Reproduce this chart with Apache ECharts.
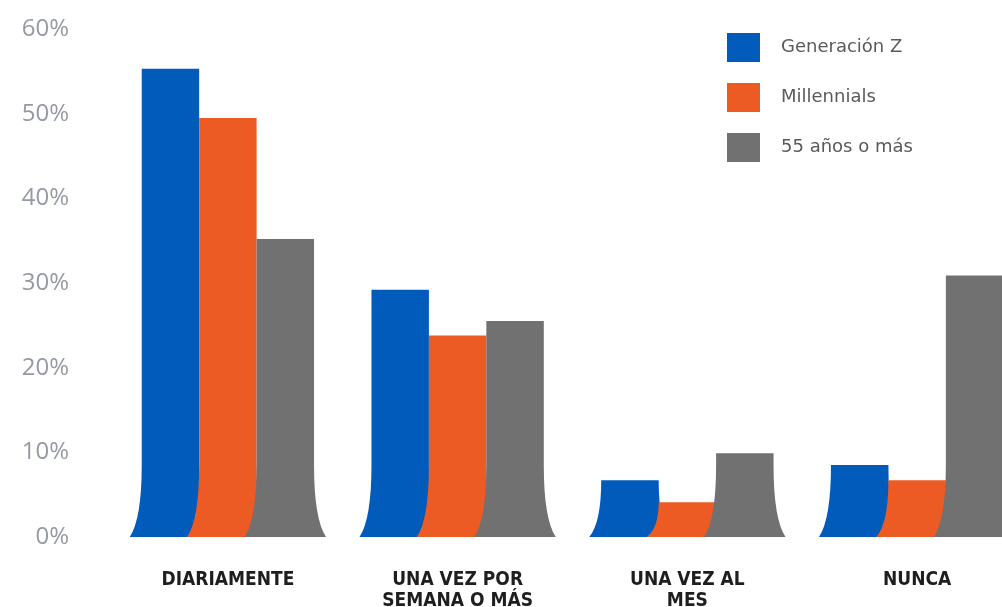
<!DOCTYPE html>
<html><head><meta charset="utf-8">
<script src="https://cdn.jsdelivr.net/npm/echarts@6/dist/echarts.min.js"></script>
<style>html,body{margin:0;padding:0;background:#fff}#c{width:1002px;height:607px}</style>
</head><body><div id="c"></div>
<script>
const categories = ['DIARIAMENTE', 'UNA VEZ POR\nSEMANA O MÁS', 'UNA VEZ AL\nMES', 'NUNCA'];
const seriesNames = ['Generación Z', 'Millennials', '55 años o más'];
const genZ = [55.3, 29.2, 6.7, 8.5];
const millennials = [49.5, 23.8, 4.1, 6.7];
const over55 = [35.2, 25.5, 9.9, 30.9];
const yTicks = [0, 10, 20, 30, 40, 50, 60];
const colors = ['#005bbb', '#ec5b24', '#717171'];

const chart = echarts.init(document.getElementById('c'), null, {renderer: 'canvas'});
const allValues = [genZ, millennials, over55];

function makeRender(idx) {
  return function (params, api) {
    const cat = api.value(0);
    const val = api.value(1);
    const base = api.coord([cat, 0]);
    const top = api.coord([cat, val]);
    const band = api.size([1, 0])[0];
    const bw = band * 0.25;
    const cx = base[0] + (idx - 1) * bw;
    const x0 = cx - bw / 2, x1 = cx + bw / 2;
    const yB = base[1], yT = top[1];
    const h = yB - yT;
    const fh = Math.min(72, h);
    const fw = 12;
    const p = [
      'M', x0, yT,
      'L', x0, yB - fh,
      'Q', x0, yB - fh * 0.25, x0 - fw, yB,
      'L', x1 + fw, yB,
      'Q', x1, yB - fh * 0.25, x1, yB - fh,
      'L', x1, yT, 'Z'
    ].join(' ');
    return {
      type: 'path',
      shape: {pathData: p},
      style: {fill: colors[idx]}
    };
  };
}

const series = seriesNames.map((name, i) => ({
  name: name,
  type: 'custom',
  renderItem: makeRender(i),
  itemStyle: {color: colors[i]},
  encode: {x: 0, y: 1},
  clip: false,
  data: allValues[i].map((v, k) => [k, v])
}));

chart.setOption({
  animation: false,
  grid: {left: 113, top: 29, width: 919, bottom: 70, containLabel: false, outerBoundsMode: 'none'},
  legend: {
    orient: 'vertical', left: 727, top: 33, padding: 0,
    itemWidth: 33, itemHeight: 29, itemGap: 21,
    icon: 'rect',
    data: seriesNames,
    textStyle: {color: '#5a5a5a', fontSize: 18, fontFamily: 'DejaVu Sans', padding: [0, 0, 0, 16]}
  },
  xAxis: {
    type: 'category', data: categories,
    axisLine: {show: false}, axisTick: {show: false},
    axisLabel: {
      interval: 0, margin: 33, color: '#1e1e1e', fontSize: 19, fontWeight: 'bold',
      fontFamily: '"DejaVu Sans Condensed", "Liberation Sans Narrow", sans-serif', lineHeight: 21
    }
  },
  yAxis: {
    type: 'value', min: 0, max: 60, interval: 10,
    axisLine: {show: false}, axisTick: {show: false}, splitLine: {show: false},
    axisLabel: {
      margin: 44, color: '#959aa2', fontSize: 24, fontFamily: 'Open Sans',
      padding: [16, 0, 0, 0],
      formatter: v => yTicks.includes(v) ? v + '%' : ''
    }
  },
  series: series
});
</script></body></html>
